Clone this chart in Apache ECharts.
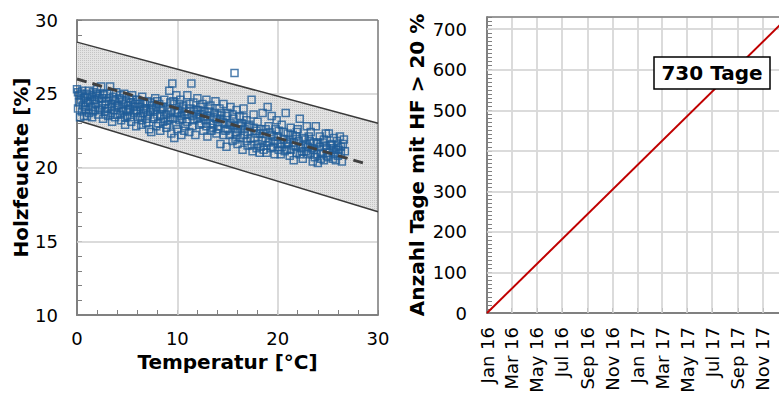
<!DOCTYPE html>
<html>
<head>
<meta charset="utf-8">
<script src="https://cdn.jsdelivr.net/npm/echarts@6/dist/echarts.min.js"></script>
<style>
    html, body { margin: 0; padding: 0; overflow: hidden; background: #fff; }
    #chart { width: 800px; height: 396px; }
    #dbg { position: fixed; left: 0; top: 330px; width: 779px; font: 10px monospace; background: #ff0; z-index: 10; white-space: pre-wrap; word-break: break-all; }
</style>
</head>
<body>
<div id="chart"></div>
<div id="dbg" style="display:none"></div>
<script>
// --- left chart: wood moisture vs temperature ---
const bandX = [0, 30];
const bandUpper = [28.5, 23.0];
const bandLower = [23.2, 17.0];
const meanX = [0, 28.8];
const meanY = [26.0, 20.25];
const leftGridX = [10, 20];
const leftGridY = [15, 20, 25];

const measurements = [
    [0.0,25.3],[0.1,25.1],[0.2,24.9],[0.3,23.4],[0.4,24.6],[0.5,25.2],[0.6,24.2],[0.7,23.5],[0.8,24.8],[0.9,23.9],[1.0,25.0],[1.1,24.4],
    [1.2,23.7],[1.3,24.9],[1.4,24.1],[1.5,23.4],[1.6,25.1],[1.7,24.6],[1.8,23.9],[1.9,24.3],[2.0,25.3],[2.1,23.6],[2.2,24.7],
    [2.4,25.5],[2.5,24.2],[2.6,23.3],[2.7,24.9],[2.8,23.8],[2.9,24.5],[3.0,25.0],[3.1,23.5],
    [3.3,25.5],[3.4,24.3],[3.5,23.1],[3.6,24.8],[3.7,23.9],[3.8,24.5],[3.9,25.1],[4.0,23.6],
    [4.1,24.2],[4.3,24.9],[4.4,23.2],[4.5,24.6],[4.6,23.8],[4.7,25.0],[4.8,22.9],[4.9,24.4],
    [5.0,23.5],[5.2,24.7],[5.3,24.0],[5.4,23.1],[5.5,24.9],[5.7,23.7],[5.8,24.3],[5.9,22.8],
    [6.0,24.6],[6.1,23.4],[6.3,24.1],[6.4,22.9],[6.5,24.8],[6.6,23.7],[6.8,24.3],[6.9,23.0],
    [7.0,24.5],[7.2,22.6],[7.3,23.8],[7.4,22.4],[7.5,24.2],[7.6,23.3],[7.8,24.7],[7.9,22.8],
    [8.0,23.6],[8.2,24.3],[8.3,22.5],[8.5,23.9],[8.6,23.1],[8.7,24.6],[8.9,22.7],
    [9.0,24.0],[9.2,25.2],[9.3,23.4],[9.4,22.3],[9.5,25.7],[9.6,24.5],[9.7,22.0],[9.8,23.7],[9.9,24.9],
    [10.0,22.6],[10.1,23.9],[10.3,24.6],[10.4,22.2],[10.5,23.3],[10.6,24.2],[10.8,22.8],[10.9,23.8],
    [11.0,24.9],[11.2,22.4],[11.4,25.7],[11.5,23.5],[11.6,24.4],[11.8,22.2],[11.9,23.9],
    [12.0,24.7],[12.2,22.9],[12.3,23.6],[12.5,24.3],[12.6,22.5],[12.8,23.2],[12.9,24.6],
    [13.0,22.1],[13.2,23.8],[13.3,24.2],[13.5,22.7],[13.6,23.4],[13.8,24.5],[13.9,22.3],
    [14.0,23.6],[14.2,24.0],[14.3,21.6],[14.5,23.1],[14.6,24.3],[14.8,22.5],[14.9,21.4],
    [15.0,23.7],[15.2,22.9],[15.3,24.1],[15.5,21.8],[15.6,23.3],[15.7,26.4],[15.8,22.4],[15.9,23.9],
    [16.0,21.6],[16.2,23.5],[16.3,22.8],[16.5,21.2],[16.6,24.0],[16.7,22.2],[16.9,23.2],
    [17.0,21.5],[17.2,22.9],[17.4,24.6],[17.5,21.1],[17.6,23.6],[17.8,22.3],[17.9,21.3],
    [18.0,23.1],[18.2,21.0],[18.3,22.6],[18.5,23.7],[18.6,21.2],[18.8,22.0],[18.9,21.0],
    [19.0,24.1],[19.1,22.8],[19.3,21.3],[19.4,23.5],[19.6,22.1],[19.7,20.9],[19.9,23.2],
    [20.0,21.6],[20.1,22.5],[20.3,20.9],[20.4,22.9],[20.6,21.9],[20.8,23.7],[20.9,21.2],
    [21.0,22.3],[21.2,20.8],[21.3,22.7],[21.5,21.5],[21.6,20.5],[21.8,22.1],[21.9,21.0],
    [22.0,22.6],[22.2,23.3],[22.3,21.3],[22.5,20.6],[22.6,22.0],[22.8,21.6],[22.9,22.8],
    [23.0,20.9],[23.2,21.8],[23.3,22.4],[23.5,20.4],[23.6,21.2],[23.8,22.8],[23.9,21.6],
    [24.0,20.3],[24.2,22.1],[24.3,21.0],[24.5,21.7],[24.6,20.5],[24.8,22.3],[24.9,21.3],
    [25.0,20.7],[25.1,22.3],[25.3,21.5],[25.5,20.6],[25.6,22.0],[25.8,21.2],[25.9,21.8],
    [26.0,20.8],[26.2,22.1],[26.3,21.4],[26.4,20.4],[26.6,21.9],[26.7,21.1],
    [0.2,24.4],[0.5,23.8],[0.8,24.1],[1.0,23.5],[1.3,24.5],[1.6,23.8],[1.9,25.0],[2.2,24.0],[2.5,24.7],[2.8,24.3],
    [3.1,24.0],[3.4,23.7],[3.7,24.6],[4.0,24.2],[4.3,23.6],[4.6,24.3],[4.9,23.9],[5.1,24.2],[5.4,24.4],[5.7,24.1],
    [6.0,23.8],[6.3,23.5],[6.6,24.4],[6.9,23.9],[7.1,23.6],[7.4,24.0],[7.7,23.4],[8.0,24.5],[8.3,23.5],[8.6,24.1],
    [8.9,23.6],[9.1,23.2],[9.4,23.8],[9.7,24.3],[10.0,23.7],[10.2,23.2],[10.5,24.0],[10.7,23.6],[11.0,23.1],[11.3,24.0],
    [11.6,23.2],[11.9,23.6],[12.1,23.9],[12.4,23.0],[12.7,23.8],[13.0,23.5],[13.3,23.0],[13.6,22.9],[13.9,23.3],[14.1,22.8],
    [14.4,23.7],[14.7,23.0],[15.0,22.6],[15.3,23.0],[15.6,22.8],[15.9,22.2],[16.1,22.9],[16.4,23.0],[16.7,22.6],[17.0,22.4],
    [17.3,22.0],[17.6,22.7],[17.9,22.5],[18.2,22.3],[18.5,21.8],[18.8,22.6],[19.1,21.7],[19.4,22.2],[19.7,21.8],[20.0,22.1],
    [20.3,21.6],[20.6,22.4],[20.9,21.7],[21.2,21.9],[21.5,22.2],[21.8,21.4],[22.1,21.8],[22.4,21.1],[22.7,21.9],[23.0,21.4],
    [23.3,21.0],[23.6,21.7],[23.9,20.9],[24.2,21.4],[24.5,20.9],[24.8,21.5],[25.1,21.0],[25.4,21.6],[25.7,20.9],[26.0,21.5],
    [26.3,21.0],
    [0.1,24.0],[0.4,25.0],[0.7,24.7],[0.9,24.4],[1.2,25.2],[1.5,24.8],[1.8,24.6],[2.1,24.9],[2.3,23.9],[2.6,25.0],
    [2.9,23.6],[3.2,24.7],[3.5,24.1],[3.8,23.4],[4.2,24.7],[4.5,24.0],[4.8,23.4],[5.1,23.8],[5.3,23.4],[5.6,24.6],
    [5.9,23.9],[6.2,24.3],[6.5,23.2],[6.7,24.0],[7.0,23.3],[7.3,24.4],[7.6,23.9],[7.9,24.1],[8.1,23.0],[8.4,24.0],
    [8.7,23.3],[9.0,22.9],[9.3,24.4],[9.6,23.3],[9.9,22.9],[10.2,24.3],[10.4,23.5],[10.7,22.5],[11.0,23.6],[11.2,24.3],
    [11.5,22.8],[11.7,23.8],[12.0,23.3],[12.3,24.1],[12.6,23.4],[12.9,22.8],[13.1,24.0],[13.4,22.5],[13.7,23.7],[14.0,22.6],
    [14.3,23.3],[14.6,22.2],[14.9,23.5],[15.2,22.2],[15.5,23.6],[15.8,21.9],[16.0,22.6],[16.3,22.0],[16.6,23.4],[16.9,21.8],
    [17.1,22.8],[17.4,21.5],[17.7,22.0],[18.0,21.6],[18.3,21.4],[18.6,22.3],[18.9,21.5],[19.2,22.4],[19.5,21.4],[19.8,22.6],
    [20.1,21.2],[20.4,21.4],[20.7,21.1],[21.0,21.6],[21.3,21.2],[21.6,21.7],[21.9,22.4],[22.2,20.9],[22.5,21.5],[22.8,21.1],
    [23.1,22.1],[23.4,21.3],[23.7,20.7],[24.0,21.7],[24.3,20.6],[24.6,21.9],[24.9,20.8],[25.2,21.2],[25.5,21.3],[25.8,20.5],
    [26.1,21.2],[26.5,21.6]
];

// --- right chart: cumulative days with HF > 20 % ---
const lineDates = ['2016-01', '2018-01'];
const lineDays = [0, 730];
const tickMonths = ['2016-01', '2016-03', '2016-05', '2016-07', '2016-09', '2016-11',
                    '2017-01', '2017-03', '2017-05', '2017-07', '2017-09', '2017-11'];
const tickLabels = ['Jan 16', 'Mar 16', 'May 16', 'Jul 16', 'Sep 16', 'Nov 16',
                    'Jan 17', 'Mar 17', 'May 17', 'Jul 17', 'Sep 17', 'Nov 17'];
const rightGridY = [100, 200, 300, 400, 500, 600, 700];

const FONT = 'DejaVu Sans';
const AXIS_GREY = '#808080';
const GRID_GREY = '#d9d9d9';

// month string -> timestamp (UTC, first of month)
function monthTs(s) {
    return Date.UTC(+s.slice(0, 4), +s.slice(5) - 1, 1);
}
const tickValues = tickMonths.map(monthTs);
const lineTs = lineDates.map(monthTs);

// fine dotted grey texture for the tolerance band
function bandPattern() {
    const c = document.createElement('canvas');
    c.width = 2; c.height = 2;
    const ctx = c.getContext('2d');
    ctx.fillStyle = '#e3e3e3';
    ctx.fillRect(0, 0, 2, 2);
    ctx.fillStyle = '#c4c4c4';
    ctx.fillRect(0, 0, 1, 1);
    return { image: c.toDataURL(), repeat: 'repeat', imageWidth: 2, imageHeight: 2 };
}

// gridlines + frame drawn as mark lines
function gridMarkLines(xs, ys, frame) {
    const data = xs.map(v => ({ xAxis: v })).concat(ys.map(v => ({ yAxis: v })));
    frame.forEach(f => data.push(Object.assign({ lineStyle: { color: AXIS_GREY, width: 1.5, type: 'solid' } }, f)));
    return {
        silent: true,
        z: 1.5,
        animation: false,
        symbol: 'none',
        label: { show: false },
        lineStyle: { color: GRID_GREY, width: 1.5, type: 'solid' },
        emphasis: { disabled: true },
        data: data
    };
}

const nameStyle = { fontFamily: FONT, fontSize: 20, fontWeight: 'bold', color: '#000' };

const chart = echarts.init(document.getElementById('chart'), null, { renderer: 'svg' });

const option = {
    animation: false,
    backgroundColor: '#fff',
    textStyle: { fontFamily: FONT },
    grid: [
        { left: 77, top: 20, width: 301, height: 295 },
        { left: 487, top: 17, width: 301, height: 296 }
    ],
    xAxis: [
        {
            gridIndex: 0,
            type: 'value',
            min: 0, max: 30, interval: 10,
            name: 'Temperatur [°C]',
            nameLocation: 'middle',
            nameGap: 37,
            nameTextStyle: nameStyle,
            axisLine: { onZero: false, lineStyle: { color: AXIS_GREY, width: 2 } },
            axisTick: { inside: true, length: 5, lineStyle: { color: AXIS_GREY } },
            minorTick: { show: true, splitNumber: 5, length: 5, lineStyle: { color: AXIS_GREY } },
            axisLabel: { fontFamily: FONT, fontSize: 18, color: '#000', margin: 14 },
            splitLine: { show: true, lineStyle: { color: GRID_GREY, width: 1.5 } }
        },
        {
            gridIndex: 1,
            type: 'value',
            min: lineTs[0], max: lineTs[1],
            axisLine: { onZero: false, lineStyle: { color: AXIS_GREY, width: 2 } },
            axisTick: { inside: true, length: 5, lineStyle: { color: AXIS_GREY }, customValues: tickValues },
            axisLabel: {
                customValues: tickValues,
                rotate: 90,
                fontFamily: FONT, fontSize: 18, color: '#000', margin: 14,
                formatter: function (v) {
                    const i = tickValues.indexOf(+v);
                    return i >= 0 ? tickLabels[i] : '';
                }
            },
            splitLine: { show: true, lineStyle: { color: GRID_GREY, width: 1.5 } }
        }
    ],
    yAxis: [
        {
            gridIndex: 0,
            type: 'value',
            min: 10, max: 30, interval: 5,
            name: 'Holzfeuchte [%]',
            nameLocation: 'middle',
            nameGap: 45,
            nameTextStyle: nameStyle,
            axisLine: { show: true, onZero: false, lineStyle: { color: AXIS_GREY, width: 2 } },
            axisTick: { show: true, inside: true, length: 5, lineStyle: { color: AXIS_GREY } },
            minorTick: { show: true, splitNumber: 5, length: 5, lineStyle: { color: AXIS_GREY } },
            axisLabel: { fontFamily: FONT, fontSize: 18, color: '#000', margin: 19 },
            splitLine: { show: true, lineStyle: { color: GRID_GREY, width: 1.5 } }
        },
        {
            gridIndex: 1,
            type: 'value',
            min: 0, max: 730, interval: 100,
            name: 'Anzahl Tage mit HF > 20 %',
            nameLocation: 'middle',
            nameGap: 60,
            nameTextStyle: nameStyle,
            axisLine: { show: true, onZero: false, lineStyle: { color: AXIS_GREY, width: 2 } },
            axisTick: { show: true, inside: true, length: 5, lineStyle: { color: AXIS_GREY } },
            minorTick: { show: true, splitNumber: 10, length: 5, lineStyle: { color: AXIS_GREY } },
            axisLabel: { fontFamily: FONT, fontSize: 18, color: '#000', margin: 20, showMaxLabel: false },
            splitLine: { show: true, lineStyle: { color: GRID_GREY, width: 1.5 } }
        }
    ],
    series: [
        {
            // grey tolerance band
            type: 'custom',
            xAxisIndex: 0, yAxisIndex: 0,
            z: 1,
            silent: true,
            data: bandX.map((x, i) => [x, bandLower[i], bandUpper[i]]),
            encode: { x: 0, y: [1, 2] },
            renderItem: function (params, api) {
                if (params.dataIndex !== 0) return;
                const upper = bandX.map((x, i) => api.coord([x, bandUpper[i]]));
                const lower = bandX.map((x, i) => api.coord([x, bandLower[i]])).reverse();
                return {
                    type: 'polygon',
                    shape: { points: upper.concat(lower) },
                    style: { fill: bandPattern() }
                };
            }
        },
        {
            type: 'line',
            xAxisIndex: 0, yAxisIndex: 0,
            z: 2,
            symbol: 'none',
            data: bandX.map((x, i) => [x, bandUpper[i]]),
            lineStyle: { color: '#3a3a3a', width: 1.5 },
            markLine: gridMarkLines(leftGridX, leftGridY, [{ xAxis: 30 }, { yAxis: 30 }])
        },
        {
            type: 'line',
            xAxisIndex: 0, yAxisIndex: 0,
            z: 2,
            symbol: 'none',
            data: bandX.map((x, i) => [x, bandLower[i]]),
            lineStyle: { color: '#3a3a3a', width: 1.5 }
        },
        {
            type: 'scatter',
            xAxisIndex: 0, yAxisIndex: 0,
            z: 3,
            symbol: 'rect',
            symbolSize: 7,
            data: measurements,
            itemStyle: { color: 'rgba(0,0,0,0)', borderColor: '#1f5c99', borderWidth: 1.5 }
        },
        {
            type: 'line',
            xAxisIndex: 0, yAxisIndex: 0,
            z: 4,
            symbol: 'none',
            data: meanX.map((x, i) => [x, meanY[i]]),
            lineStyle: { color: '#404040', width: 3, type: [10, 6] }
        },
        {
            type: 'line',
            xAxisIndex: 1, yAxisIndex: 1,
            z: 2,
            symbol: 'none',
            data: lineTs.map((t, i) => [t, lineDays[i]]),
            lineStyle: { color: '#c00000', width: 2 },
            markLine: gridMarkLines(tickValues.slice(1), rightGridY, [{ yAxis: 730 }])
        }
    ],
    graphic: [
        {
            type: 'rect',
            z: 100,
            shape: { x: 654, y: 57, width: 116, height: 32 },
            style: { fill: '#fff', stroke: '#000', lineWidth: 1.5 }
        },
        {
            type: 'text',
            z: 101,
            x: 712, y: 73,
            style: {
                text: '730 Tage',
                font: 'bold 20px "DejaVu Sans"',
                fill: '#000',
                align: 'center',
                verticalAlign: 'middle'
            }
        }
    ]
};

chart.setOption(option);

// diagnostic: only shown when the grey grid lines look broken in the svg output
(function () {
    const svg = document.querySelector('#chart svg');
    if (!svg) return;
    const grey = Array.from(svg.querySelectorAll('path')).filter(p => {
        const s = (p.getAttribute('stroke') || '').toLowerCase().replace(/\s/g, '');
        return s === GRID_GREY || s === 'rgb(217,217,217)';
    });
    const good = grey.filter(p => (p.getAttribute('d') || '').length > 4 && !p.getAttribute('clip-path'));
    if (good.length < 3) {
        const d = document.getElementById('dbg');
        d.style.display = 'block';
        d.textContent = 'grey=' + grey.length + ' good=' + good.length + ' ' +
            (grey[0] ? grey[0].outerHTML.slice(0, 300) + ' PARENT ' + grey[0].parentNode.outerHTML.slice(0, 120) : '');
    }
})();
</script>
</body>
</html>
